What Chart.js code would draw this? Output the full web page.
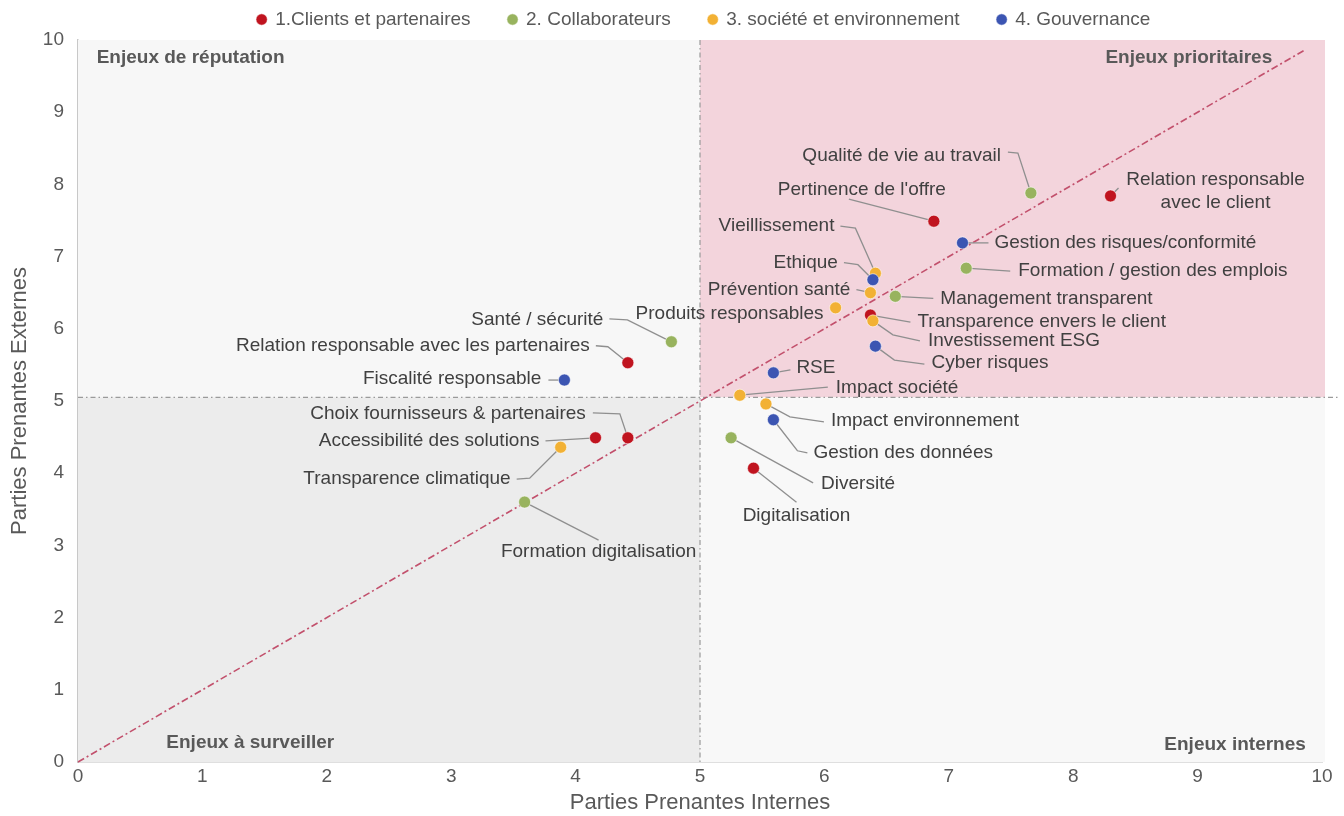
<!DOCTYPE html>
<html lang="fr">
<head>
<meta charset="utf-8">
<title>Matrice de matérialité</title>
<script src="https://cdn.jsdelivr.net/npm/chart.js@4.4.1/dist/chart.umd.min.js"></script>
<style>
  html, body { margin: 0; padding: 0; background: #ffffff; }
  #wrap { width: 1344px; height: 816px; position: relative; }
</style>
</head>
<body>
<div id="wrap"><canvas id="chart" width="1344" height="816"></canvas></div>
<script>
// Axis scale and quadrant thresholds
const axisMin = 0;
const axisMax = 10;
const internalThreshold = 5.0;
const externalThreshold = 5.05;
const diagonalEnd = 9.87;

// Series names
const seriesNames = ['1.Clients et partenaires', '2. Collaborateurs', '3. société et environnement', '4. Gouvernance'];

// 1. Clients et partenaires
const clientNames = ['Relation responsable\navec le client', "Pertinence de l'offre", 'Relation responsable avec les partenaires',
  'Choix fournisseurs & partenaires', 'Accessibilité des solutions', 'Digitalisation', 'Transparence envers le client'];
const clientInternes = [8.30, 6.88, 4.42, 4.42, 4.16, 5.43, 6.37];
const clientExternes = [7.84, 7.49, 5.53, 4.49, 4.49, 4.07, 6.19];

// 2. Collaborateurs
const collabNames = ['Qualité de vie au travail', 'Formation / gestion des emplois', 'Management transparent',
  'Santé / sécurité', 'Formation digitalisation', 'Diversité'];
const collabInternes = [7.66, 7.14, 6.57, 4.77, 3.59, 5.25];
const collabExternes = [7.88, 6.84, 6.45, 5.82, 3.60, 4.49];

// 3. Société et environnement
const societeNames = ['Vieillissement', 'Prévention santé', 'Produits responsables', 'Investissement ESG',
  'Impact société', 'Impact environnement', 'Transparence climatique'];
const societeInternes = [6.41, 6.37, 6.09, 6.39, 5.32, 5.53, 3.88];
const societeExternes = [6.77, 6.50, 6.29, 6.11, 5.08, 4.96, 4.36];

// 4. Gouvernance
const gouvNames = ['Gestion des risques/conformité', 'Ethique', 'Cyber risques', 'RSE',
  'Gestion des données', 'Fiscalité responsable'];
const gouvInternes = [7.11, 6.39, 6.41, 5.59, 5.59, 3.91];
const gouvExternes = [7.19, 6.68, 5.76, 5.39, 4.74, 5.29];

// Quadrant titles
const quadrantTitles = ['Enjeux de réputation', 'Enjeux prioritaires', 'Enjeux à surveiller', 'Enjeux internes'];

// Label placement (pixel offsets from each marker) and leader-line elbows
const labelLayout = {
  'Relation responsable\navec le client': { dx: 105, dy: -16, align: 'center', path: [[8, -8]] },
  "Pertinence de l'offre": { dx: 12, dy: -31, align: 'right', path: [[-85, -22]] },
  'Relation responsable avec les partenaires': { dx: -38, dy: -17, align: 'right', path: [[-20, -16], [-32, -17]] },
  'Choix fournisseurs & partenaires': { dx: -42, dy: -24, align: 'right', path: [[-8, -24], [-35, -25]] },
  'Accessibilité des solutions': { dx: -56, dy: 3, align: 'right', path: [[-50, 3]] },
  'Digitalisation': { dx: 43, dy: 48, align: 'center', path: [[43, 34]] },
  'Transparence envers le client': { dx: 47, dy: 7, align: 'left', path: [[40, 7]] },

  'Qualité de vie au travail': { dx: -30, dy: -37, align: 'right', path: [[-13, -40], [-23, -41]] },
  'Formation / gestion des emplois': { dx: 52, dy: 3, align: 'left', path: [[44, 3]] },
  'Management transparent': { dx: 45, dy: 2, align: 'left', path: [[38, 2]] },
  'Santé / sécurité': { dx: -68, dy: -22, align: 'right', path: [[-44, -22], [-62, -23]] },
  'Formation digitalisation': { dx: 74, dy: 50, align: 'center', path: [[74, 38]] },
  'Diversité': { dx: 90, dy: 46, align: 'left', path: [[82, 45]] },

  'Vieillissement': { dx: -41, dy: -47, align: 'right', path: [[-20, -45], [-35, -47]] },
  'Prévention santé': { dx: -20, dy: -3, align: 'right', path: [[-14, -3]] },
  'Produits responsables': { dx: -12, dy: 6, align: 'right', path: [] },
  'Investissement ESG': { dx: 55, dy: 20, align: 'left', path: [[20, 14], [47, 20]] },
  'Impact société': { dx: 96, dy: -7, align: 'left', path: [[88, -8]] },
  'Impact environnement': { dx: 65, dy: 17, align: 'left', path: [[24, 13], [58, 18]] },
  'Transparence climatique': { dx: -50, dy: 32, align: 'right', path: [[-31, 31], [-44, 32]] },

  'Gestion des risques/conformité': { dx: 32, dy: 0, align: 'left', path: [[26, 0]] },
  'Ethique': { dx: -35, dy: -17, align: 'right', path: [[-15, -15], [-29, -17]] },
  'Cyber risques': { dx: 56, dy: 17, align: 'left', path: [[19, 14], [49, 18]] },
  'RSE': { dx: 23, dy: -5, align: 'left', path: [[17, -3]] },
  'Gestion des données': { dx: 40, dy: 33, align: 'left', path: [[24, 31], [34, 33]] },
  'Fiscalité responsable': { dx: -23, dy: -1, align: 'right', path: [[-16, 0]] }
};

const colors = ['#c0141f', '#98b35e', '#f2b134', '#3c55b2'];
const textGrey = '#595959';
const labelGrey = '#404040';
const FONT = '"Liberation Sans", Arial, sans-serif';
const NARROW = '"Liberation Sans Narrow", "Arial Narrow", "Liberation Sans", sans-serif';

function toPoints(xs, ys) { return xs.map((x, i) => ({ x: x, y: ys[i] })); }

const groups = [
  { names: clientNames, xs: clientInternes, ys: clientExternes },
  { names: collabNames, xs: collabInternes, ys: collabExternes },
  { names: societeNames, xs: societeInternes, ys: societeExternes },
  { names: gouvNames, xs: gouvInternes, ys: gouvExternes }
];

const datasets = groups.map((g, i) => ({
  label: seriesNames[i],
  data: toPoints(g.xs, g.ys),
  names: g.names,
  backgroundColor: colors[i],
  borderColor: 'rgba(255,255,255,0.55)',
  borderWidth: 1,
  pointRadius: 6,
  pointHoverRadius: 6,
  order: 4 - i
}));

// Legend band: fixed height, items lifted into the band and shifted right
const LEGEND_HEIGHT = 40;
const LEGEND_LIFT = 28;
const LEGEND_SHIFT = 43;

// Quadrant shading, separators, diagonal and labels
const matrixPlugin = {
  id: 'matrix',
  beforeUpdate(chart) {
    const lg = chart.legend;
    if (lg && !lg._fixedFit) {
      const fit = lg.fit;
      lg.fit = function () { fit.call(this); this.height = LEGEND_HEIGHT; };
      const draw = lg.draw;
      lg.draw = function () {
        this.top -= LEGEND_LIFT; this.left += LEGEND_SHIFT; this.right += LEGEND_SHIFT;
        draw.call(this);
        this.top += LEGEND_LIFT; this.left -= LEGEND_SHIFT; this.right -= LEGEND_SHIFT;
      };
      lg._fixedFit = true;
    }
  },
  beforeDatasetsDraw(chart) {
    const { ctx, scales: { x, y } } = chart;
    const xl = x.getPixelForValue(axisMin), xr = x.getPixelForValue(axisMax);
    const yb = y.getPixelForValue(axisMin), yt = y.getPixelForValue(axisMax);
    const xm = x.getPixelForValue(internalThreshold), ym = y.getPixelForValue(externalThreshold);
    ctx.save();
    // quadrant fills
    ctx.fillStyle = '#f7f7f7'; ctx.fillRect(xl, yt, xm - xl, ym - yt);
    ctx.fillStyle = '#f3d4dc'; ctx.fillRect(xm, yt, xr - xm + 3, ym - yt);
    ctx.fillStyle = '#ececec'; ctx.fillRect(xl, ym, xm - xl, yb - ym);
    ctx.fillStyle = '#f8f8f8'; ctx.fillRect(xm, ym, xr - xm + 3, yb - ym);

    // separators
    ctx.strokeStyle = '#9a9a9a';
    ctx.lineWidth = 1.2;
    ctx.setLineDash([5, 3, 1.5, 3]);
    ctx.beginPath();
    ctx.moveTo(xm, yt); ctx.lineTo(xm, yb);
    ctx.moveTo(xl, ym); ctx.lineTo(xr + 18, ym);
    ctx.stroke();

    // diagonal
    ctx.strokeStyle = '#c2506c';
    ctx.lineWidth = 1.6;
    ctx.setLineDash([7, 3, 2, 3]);
    ctx.beginPath();
    ctx.moveTo(x.getPixelForValue(0), y.getPixelForValue(0));
    ctx.lineTo(x.getPixelForValue(diagonalEnd), y.getPixelForValue(diagonalEnd));
    ctx.stroke();
    ctx.setLineDash([]);

    // leader lines
    ctx.strokeStyle = '#8f8f8f';
    ctx.lineWidth = 1.3;
    chart.data.datasets.forEach((ds, di) => {
      const meta = chart.getDatasetMeta(di);
      ds.names.forEach((name, i) => {
        const lay = labelLayout[name];
        if (!lay || !lay.path.length) return;
        const p = meta.data[i];
        ctx.beginPath();
        ctx.moveTo(p.x, p.y);
        lay.path.forEach(([dx, dy]) => ctx.lineTo(p.x + dx, p.y + dy));
        ctx.stroke();
      });
    });

    // quadrant titles
    ctx.fillStyle = textGrey;
    ctx.font = 'bold 19px ' + FONT;
    ctx.textBaseline = 'middle';
    ctx.textAlign = 'left';
    ctx.fillText(quadrantTitles[0], x.getPixelForValue(0.15), y.getPixelForValue(9.76));
    ctx.fillText(quadrantTitles[2], x.getPixelForValue(0.71), y.getPixelForValue(0.26));
    ctx.textAlign = 'right';
    ctx.fillText(quadrantTitles[1], x.getPixelForValue(9.60), y.getPixelForValue(9.76));
    ctx.fillText(quadrantTitles[3], x.getPixelForValue(9.87), y.getPixelForValue(0.24));
    ctx.restore();
  },
  afterDatasetsDraw(chart) {
    const { ctx } = chart;
    ctx.save();
    ctx.fillStyle = labelGrey;
    ctx.font = '19px ' + FONT;
    ctx.textBaseline = 'middle';
    chart.data.datasets.forEach((ds, di) => {
      const meta = chart.getDatasetMeta(di);
      ds.names.forEach((name, i) => {
        const lay = labelLayout[name];
        const p = meta.data[i];
        ctx.textAlign = lay.align;
        name.split('\n').forEach((line, li) => {
          ctx.fillText(line, p.x + lay.dx, p.y + lay.dy + li * 23);
        });
      });
    });
    ctx.restore();
  }
};

new Chart(document.getElementById('chart'), {
  type: 'scatter',
  data: { datasets },
  plugins: [matrixPlugin],
  options: {
    responsive: false,
    animation: false,
    events: [],
    layout: { padding: { left: 0, right: 22, top: 0, bottom: 0 } },
    plugins: {
      tooltip: { enabled: false },
      legend: {
        position: 'top',
        align: 'center',
        labels: {
          usePointStyle: true,
          pointStyle: 'circle',
          boxWidth: 8,
          boxHeight: 8,
          padding: 38,
          color: textGrey,
          font: { family: FONT, size: 19 },
          sort: (a, b) => a.datasetIndex - b.datasetIndex
        }
      }
    },
    scales: {
      x: {
        type: 'linear',
        min: axisMin, max: axisMax,
        ticks: { stepSize: 1, color: textGrey, font: { family: NARROW, size: 19 }, padding: 3 },
        grid: { display: false, drawTicks: false },
        border: { display: true, color: '#bfbfbf', width: 1.5 },
        title: { display: true, text: 'Parties Prenantes Internes', color: textGrey,
                 font: { family: NARROW, size: 22 }, padding: { top: 0, bottom: 0 } },
        afterFit(scale) { scale.height = 54; }
      },
      y: {
        type: 'linear',
        min: axisMin, max: axisMax,
        ticks: { stepSize: 1, color: textGrey, font: { family: NARROW, size: 19 }, padding: 14 },
        grid: { display: false, drawTicks: false },
        border: { display: true, color: '#c8c8c8', width: 1.5 },
        title: { display: true, text: 'Parties Prenantes Externes', color: textGrey,
                 font: { family: NARROW, size: 22 }, padding: { top: 7, bottom: 0 } },
        afterFit(scale) { scale.width = 78; }
      }
    }
  }
});
</script>
</body>
</html>
